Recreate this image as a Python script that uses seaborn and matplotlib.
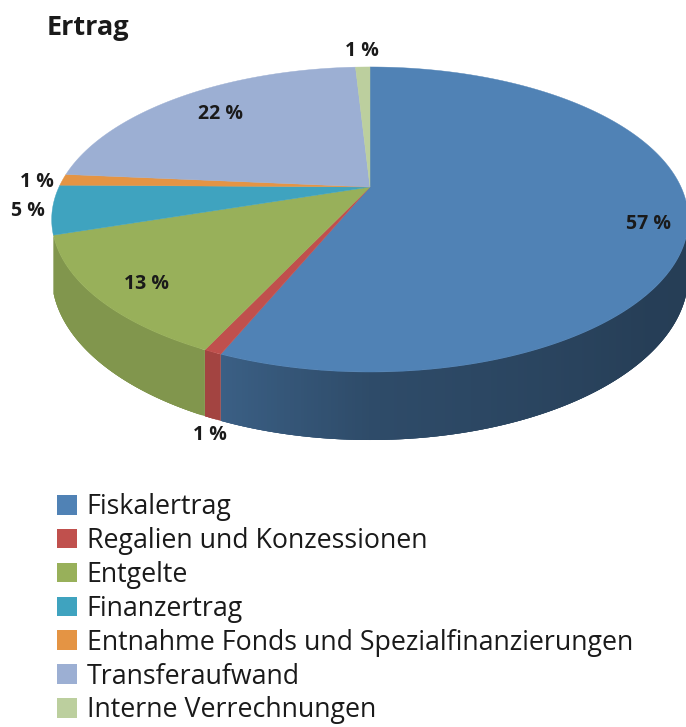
import numpy as np
import matplotlib
matplotlib.use("Agg")
import matplotlib.pyplot as plt
from matplotlib.patches import Patch
import seaborn as sns

categories = ["Fiskalertrag", "Regalien und Konzessionen", "Entgelte", "Finanzertrag",
              "Entnahme Fonds und Spezialfinanzierungen", "Transferaufwand", "Interne Verrechnungen"]
values = [56.3, 0.75, 12.95, 5.2, 1.2, 22.7, 0.9]
value_labels = ["57 %", "1 %", "13 %", "5 %", "1 %", "22 %", "1 %"]
colors = ["#5082b5", "#c0504d", "#98b05a", "#3fa3bf", "#e49444", "#9cafd3", "#bccf9e"]

sns.set_theme(style="white")
plt.rcParams["font.family"] = ["Open Sans", "DejaVu Sans"]
palette = sns.color_palette(colors)

W, H = 686, 727
fig = plt.figure(figsize=(W / 100, H / 100), dpi=100)
ax = fig.add_axes([0, 0, 1, 1])
ax.set_xlim(0, W)
ax.set_ylim(H, 0)
ax.axis("off")

# perspective disc
CX, CY, F, G, K, DEPTH = 370, 187, 311, 145.6, 0.213, 68


def project(t):
    u, v = np.sin(t), np.cos(t)
    d = 1 + K * v
    return CX + F * u / d, CY - G * v / d, DEPTH * (1 - K) / d


def shade(t, i):
    s = np.interp(np.degrees(t), [90, 130, 180, 205, 270], [0.47, 0.48, 0.58, 0.75, 0.86])
    return s if i == 0 else max(s, 0.85)


edges = np.radians(np.concatenate([[0], np.cumsum(values) / np.sum(values) * 360]))

# side wall: each strip overlaps the next one, so no seams show
for i, col in enumerate(palette):
    a, b = max(edges[i], np.radians(100)), min(edges[i + 1], np.radians(251.5))
    if b <= a:
        continue
    ts = np.linspace(a, b, max(3, int(np.degrees(b - a) * 2)))
    for j in range(len(ts) - 1):
        tm = (ts[j] + ts[j + 1]) / 2
        seg = np.linspace(ts[j], ts[min(j + 3, len(ts) - 1)], 6)
        x, y, d = project(seg)
        ax.fill(np.r_[x, x[::-1]], np.r_[y, (y + d)[::-1]], color=np.array(col) * shade(tm, i), lw=0, zorder=1)

# top face
for i, col in enumerate(palette):
    ts = np.linspace(edges[i], edges[i + 1], max(3, int(np.degrees(edges[i + 1] - edges[i]) * 2)))
    x, y, _ = project(ts)
    ax.fill(np.r_[CX, x], np.r_[CY, y], color=col, lw=0.3, zorder=2)

# value labels
label_pos = [(648, 224), (210, 435), (146, 284), (28, 211), (37, 182), (221, 114), (362, 51)]
for txt, (x, y) in zip(value_labels, label_pos):
    ax.text(x, y, txt, fontsize=14, fontweight="bold", color="#1a1a1a", ha="center", va="center", zorder=3)

ax.text(47, 28, "Ertrag", fontsize=19.5, fontweight="bold", color="#1a1a1a", ha="left", va="center")

handles = [Patch(facecolor=c, edgecolor="none") for c in palette]
ax.legend(handles, categories, loc="upper left", bbox_to_anchor=(49 / W, 1 - 485 / H), frameon=False,
          fontsize=19.3, handlelength=0.75, handleheight=0.75, handletextpad=0.35,
          labelspacing=0.22, borderpad=0.3, borderaxespad=0, labelcolor="#1a1a1a")

fig.savefig("out.png", dpi=100)
